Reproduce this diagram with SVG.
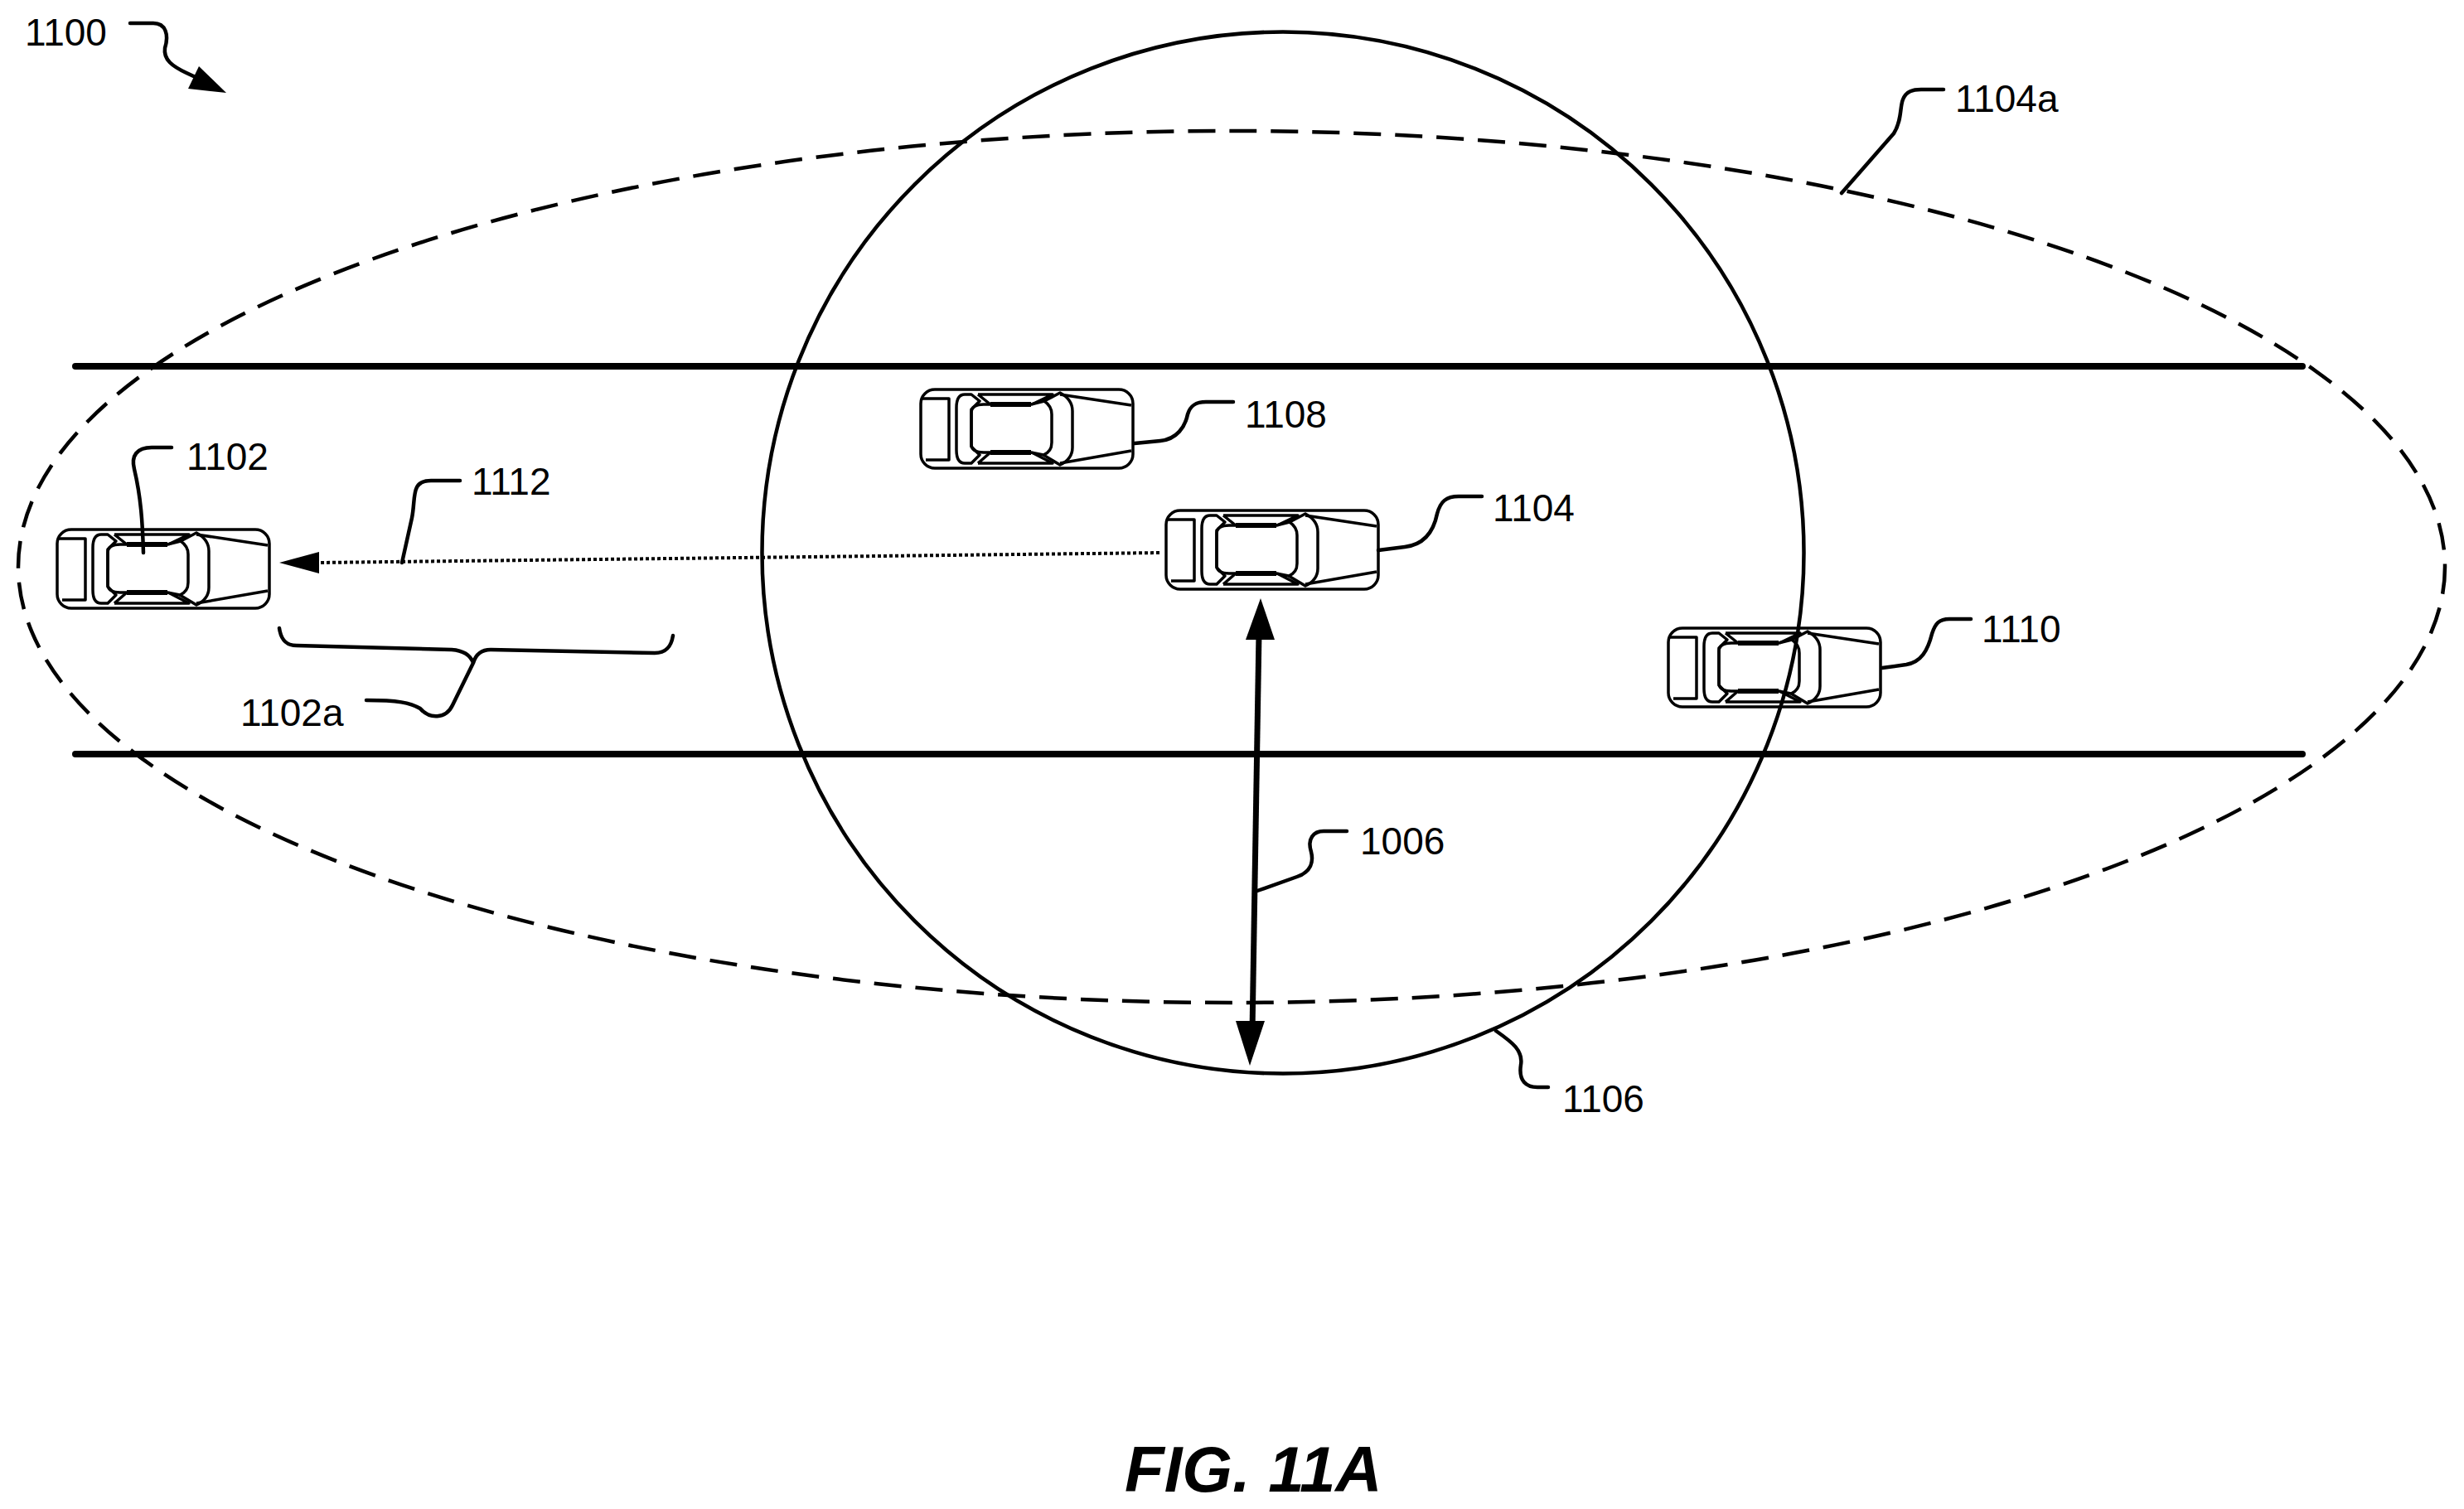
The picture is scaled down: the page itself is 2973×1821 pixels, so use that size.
<svg xmlns="http://www.w3.org/2000/svg" width="2973" height="1821" viewBox="0 0 2973 1821">
<style>
text{font-family:"Liberation Sans",Arial,sans-serif;font-size:46px;fill:#000}
.fig{font-size:78px;font-weight:bold;font-style:italic}
.l{fill:none;stroke:#000;stroke-width:4.5;stroke-linecap:round;stroke-linejoin:round}
.c{fill:none;stroke:#000;stroke-width:3.5;stroke-linejoin:round}
.road{stroke:#000;stroke-width:8;stroke-linecap:round}
</style>
<defs>
<g id="car" fill="none" stroke="#000" stroke-width="3.5" stroke-linejoin="round">
<rect x="0" y="0" width="256" height="95" rx="17"/>
<path d="M2 11H34V85H6"/>
<path d="M71 14L61 6H53Q43 6 43 22V73Q43 89 53 89H61L71 79L61 69V24L71 14Z" />
<path d="M61 28Q61 18 76 18H133L149 14Q158 20 158 30V64Q158 75 148 79L133 76H76Q61 76 61 66Z"/>
<path d="M69 6H159L134 18M69 6L84 18M69 89H159L134 76M69 89L84 76" />
<path d="M149 14L168 4Q183 12 183 26V70Q183 84 168 91L148 79"/>
<path d="M168 6L254 19M168 89L254 74"/>
<path d="M84 18H133M84 76H133" stroke-width="6"/>
</g>
</defs>
<g id="road">
<line class="road" x1="91" y1="442" x2="2778" y2="442"/>
<line class="road" x1="91" y1="910" x2="2778" y2="910"/>
</g>
<g id="zones">
<ellipse id="zone-1104a" cx="1486" cy="684" rx="1464" ry="526" fill="none" stroke="#000" stroke-width="4.5" stroke-dasharray="33 17"/>
<circle id="zone-1106" cx="1548" cy="667" r="628.5" fill="none" stroke="#000" stroke-width="4.5"/>
</g>
<g id="node-1102"><use href="#car" x="69" y="639"/><text x="225" y="567">1102</text></g>
<g id="node-1108"><use href="#car" x="1111" y="470"/><text x="1502" y="516">1108</text></g>
<g id="node-1104"><use href="#car" x="1407" y="616"/><text x="1801" y="629">1104</text></g>
<g id="node-1110"><use href="#car" x="2013" y="758"/><text x="2391" y="775">1110</text></g>
<g id="connectors">
<path d="M1399 667L385 679" fill="none" stroke="#000" stroke-width="4" stroke-dasharray="4 3"/>
<path d="M337 679L385 666V692Z"/>
<path d="M1519 765L1511 1245" fill="none" stroke="#000" stroke-width="7"/>
<path d="M1521 722L1538 772H1503Z"/>
<path d="M1508 1286L1491 1232H1526Z"/>
<path class="l" d="M157 28H185C200 28 204 42 199 58C197 72 208 80 225 88L240 95"/>
<path d="M273 112L227 107L240 80Z"/>
<path class="l" d="M207 540H183C165 540 158 550 162 566C170 600 172 630 173 667"/>
<path class="l" d="M2222 233L2285 161C2295 145 2292 130 2296 120C2300 110 2308 108 2318 108H2345"/>
<path class="l" d="M1369 535L1400 532C1420 530 1430 515 1433 500C1436 490 1442 485 1455 485H1488"/>
<path class="l" d="M1663 664L1695 660C1720 657 1730 640 1734 620C1738 605 1745 599 1760 599H1788"/>
<path class="l" d="M2271 806L2300 802C2318 799 2326 785 2331 765C2335 752 2340 747 2352 747H2378"/>
<path class="l" d="M1517 1075L1565 1058C1582 1052 1585 1040 1582 1028C1577 1012 1585 1003 1597 1003H1625"/>
<path class="l" d="M1805 1244C1825 1258 1838 1268 1835 1285C1832 1305 1842 1312 1855 1312H1868"/>
<path class="l" d="M485 679L497 625C502 600 495 580 520 580H555"/>
<path class="l" d="M337 758C339 772 345 779 358 779L545 784C560 785 568 792 571 800M812 767C810 780 804 788 790 788L592 784C580 784 574 790 571 800L546 851C538 868 518 868 507 855C495 848 480 845 442 845"/>
</g>
<g id="labels">
<text x="30" y="55">1100</text>
<text x="2359" y="135">1104a</text>
<text x="569" y="597">1112</text>
<text x="290" y="876">1102a</text>
<text x="1641" y="1031">1006</text>
<text x="1885" y="1342">1106</text>
<text class="fig" x="1357" y="1800">FIG. 11A</text>
</g>
</svg>
